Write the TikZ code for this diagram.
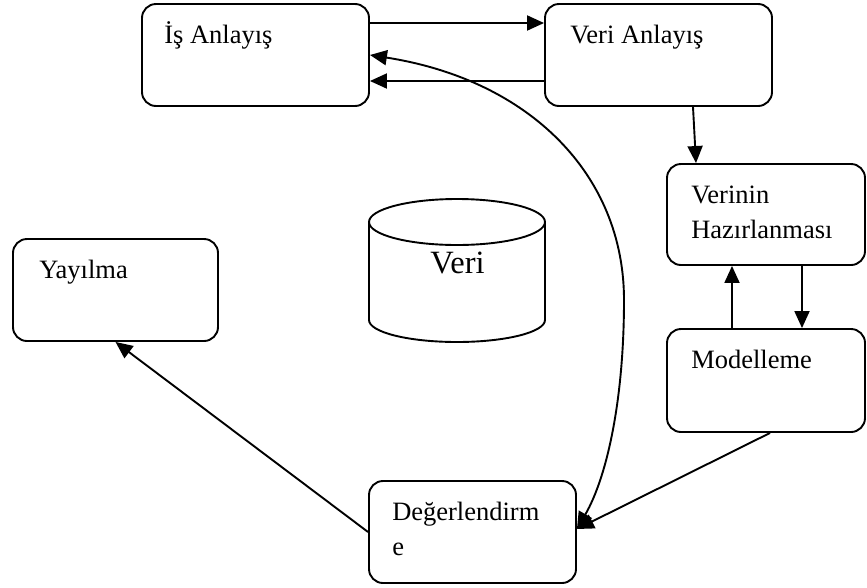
\documentclass[tikz,border=0pt]{standalone}
\usepackage{fontspec}
\setmainfont{Liberation Serif}
\usetikzlibrary{arrows.meta}

\begin{document}
\begin{tikzpicture}[x=1pt,y=-1pt]
\tikzstyle{every node}=[font=\fontsize{26.5}{35}\selectfont]
\tikzstyle{box}=[draw,line width=1.9pt,rounded corners=14pt,inner sep=0pt]
\tikzstyle{lbl}=[anchor=north west,inner sep=0pt,align=left]
\tikzstyle{arr}=[line width=1.9pt,-{Triangle[length=17pt,width=15pt]}]
\tikzstyle{arrs}=[line width=1.9pt,{Triangle[length=17pt,width=15pt]}-{Triangle[length=17pt,width=15pt]}]
\useasboundingbox (0,0) rectangle (867,587);

\node[box,minimum width=227pt,minimum height=102pt] (is) at (255.5,55) {};
\node[box,minimum width=227pt,minimum height=102pt] (va) at (658.5,55) {};
\node[box,minimum width=198pt,minimum height=101pt] (vh) at (766,214.5) {};
\node[box,minimum width=198pt,minimum height=103pt] (mo) at (766,380.5) {};
\node[box,minimum width=205pt,minimum height=102pt] (ya) at (115.5,290) {};
\node[box,minimum width=207pt,minimum height=102pt] (de) at (472.5,532) {};

\node[lbl] (isT) at ([shift={(23pt,-15.5pt)}]is.north west) {\strut İş Anlayış};
\node[lbl] (vaT) at ([shift={(26pt,-15.5pt)}]va.north west) {\strut Veri Anlayış};
\node[lbl] (vhT) at ([shift={(25pt,-15.5pt)}]vh.north west) {\strut Verinin\\Hazırlanması};
\node[lbl] (moT) at ([shift={(25pt,-15.5pt)}]mo.north west) {\strut Modelleme};
\node[lbl] (yaT) at ([shift={(27pt,-15.5pt)}]ya.north west) {\strut Yayılma};
\node[lbl] (deT) at ([shift={(24pt,-15.5pt)}]de.north west) {\strut Değerlendirm\\e};

\draw[line width=1.9pt] (457,222) ellipse [x radius=88pt,y radius=23pt];
\draw[line width=1.9pt] (369,222) -- (369,320) arc[start angle=180,end angle=360,x radius=88pt,y radius=22pt] -- (545,222);
\node[font=\fontsize{32.5}{39}\selectfont] (veri) at (457.5,263) {Veri};

\draw[arr] ([yshift=32pt]is.east) -- ([yshift=32pt]va.west);
\draw[arr] ([yshift=-26pt]va.west) -- ([yshift=-26pt]is.east);
\draw[arr] ([xshift=34.5pt]va.south) -- ([xshift=-70pt]vh.north);
\draw[arr] ([xshift=-34pt]mo.north) -- ([xshift=-34pt]vh.south);
\draw[arr] ([xshift=36pt]vh.south) -- ([xshift=36pt]mo.north);
\draw[arr] ([xshift=4pt]mo.south) -- ([yshift=3pt]de.east);
\draw[arr] (de.west) -- (ya.south);
\coordinate (bend) at (624,300);
\draw[arrs] (is.east) .. controls +(160,25) and +(0,-125) .. (bend) .. controls +(0,100) and +(30,-52) .. ([yshift=3pt]de.east);
\end{tikzpicture}
\end{document}
